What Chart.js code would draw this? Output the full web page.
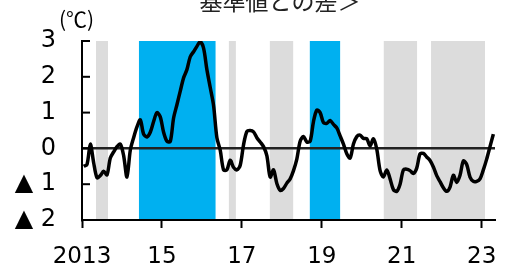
<!DOCTYPE html>
<html>
<head>
<meta charset="utf-8">
<script src="https://cdn.jsdelivr.net/npm/chart.js@4/dist/chart.umd.min.js"></script>
<style>
  html, body { margin: 0; padding: 0; background: #fff; }
  #wrap { width: 507px; height: 270px; }
</style>
</head>
<body>
<div id="wrap"><canvas id="chart"></canvas></div>
<script>
const titleText = '基準値との差＞';
const unitText = '(℃)';

// monthly values from 2013/01 (index 0) to 2023/04
const diffValues = [
  -0.5, -0.45, 0.12, -0.4, -0.82, -0.76, -0.64, -0.74, -0.27, -0.1, 0.05, 0.12,
  -0.2, -0.8, -0.05, 0.3, 0.6, 0.8, 0.4, 0.32, 0.45, 0.75, 1.0, 0.88,
  0.45, 0.2, 0.19, 0.85, 1.22, 1.6, 1.97, 2.2, 2.56, 2.7, 2.85, 2.98,
  2.8, 2.2, 1.7, 1.2, 0.3, -0.05, -0.6, -0.6, -0.33, -0.53, -0.6, -0.47,
  0.1, 0.47, 0.5, 0.46, 0.3, 0.18, 0.05, -0.2, -0.8, -0.6, -0.98, -1.17,
  -1.12, -0.97, -0.85, -0.62, -0.3, 0.2, 0.33, 0.18, 0.2, 0.75, 1.07, 1.0,
  0.72, 0.7, 0.78, 0.67, 0.57, 0.35, 0.12, -0.15, -0.27, 0.12, 0.33, 0.37,
  0.28, 0.27, 0.07, 0.27, -0.02, -0.62, -0.8, -0.6, -0.85, -1.15, -1.2, -1.0,
  -0.6, -0.58, -0.62, -0.7, -0.55, -0.15, -0.14, -0.24, -0.34, -0.52, -0.76, -0.93,
  -1.1, -1.2, -1.08, -0.75, -0.95, -0.75, -0.35, -0.45, -0.8, -0.92, -0.92, -0.85,
  -0.6, -0.3, 0.05, 0.4
];

// x tick positions (month index) and labels
const tickMonths = [0, 24, 48, 72, 96, 120];
const tickLabels = ['2013', '15', '17', '19', '21', '23'];

// shaded periods, in month index (start, end)
const laninaStart = [4.2, 44.1, 56.4, 90.6, 104.8];
const laninaEnd   = [7.8, 46.2, 63.4, 100.6, 121];
const elninoStart = [17.1, 68.4];
const elninoEnd   = [40.1, 77.5];

const points = diffValues.map((v, i) => ({ x: i + 0.5, y: v }));

const bandsPlugin = {
  id: 'bands',
  beforeDraw(chart) {
    const { ctx, chartArea, scales } = chart;
    const draw = (starts, ends, color) => {
      ctx.fillStyle = color;
      starts.forEach((s, i) => {
        const x1 = scales.x.getPixelForValue(s);
        const x2 = scales.x.getPixelForValue(ends[i]);
        ctx.fillRect(x1, chartArea.top, x2 - x1, chartArea.bottom - chartArea.top);
      });
    };
    ctx.save();
    draw(laninaStart, laninaEnd, '#dcdcdc');
    draw(elninoStart, elninoEnd, '#00b0f0');
    ctx.restore();
  },
  afterDraw(chart) {
    const { ctx, chartArea, scales } = chart;
    ctx.save();
    // inner tick marks on the y axis
    ctx.strokeStyle = '#000';
    ctx.lineWidth = 2;
    scales.y.ticks.forEach(t => {
      const y = scales.y.getPixelForValue(t.value);
      ctx.beginPath();
      ctx.moveTo(chartArea.left, y);
      ctx.lineTo(chartArea.left + 8, y);
      ctx.stroke();
    });
    ctx.fillStyle = '#000';
    ctx.textBaseline = 'middle';
    ctx.textAlign = 'left';
    ctx.font = '21px "Noto Sans CJK JP"';
    ctx.fillText(unitText, 59, 19);
    ctx.textAlign = 'center';
    ctx.font = '23px "Noto Sans CJK JP"';
    ctx.fillStyle = '#222';
    ctx.fillText(titleText, 280, 1);
    ctx.restore();
  }
};

new Chart(document.getElementById('chart'), {
  type: 'line',
  data: {
    datasets: [{
      data: points,
      borderColor: '#000',
      borderWidth: 3.5,
      pointRadius: 0,
      tension: 0.3,
      fill: false
    }]
  },
  options: {
    responsive: true,
    maintainAspectRatio: false,
    animation: false,
    layout: { padding: { top: 41, right: 12, left: 0, bottom: 0 } },
    plugins: { legend: { display: false }, tooltip: { enabled: false } },
    scales: {
      x: {
        type: 'linear',
        min: 0,
        max: 124,
        afterBuildTicks: scale => { scale.ticks = tickMonths.map(v => ({ value: v })); },
        afterFit: scale => {
          scale.height = 50;
          scale.paddingLeft = 0;
          scale.paddingRight = 0;
        },
        ticks: {
          autoSkip: false,
          maxRotation: 0,
          padding: 15,
          color: '#000',
          font: { family: 'DejaVu Sans', size: 23 },
          callback: v => tickLabels[tickMonths.indexOf(v)]
        },
        grid: {
          drawOnChartArea: false,
          drawTicks: true,
          tickLength: 8,
          tickColor: '#000',
          tickWidth: 2
        },
        border: { display: true, color: '#000', width: 2 }
      },
      y: {
        min: -2,
        max: 3,
        afterFit: scale => {
          scale.width = 82;
          scale.paddingTop = 0;
          scale.paddingBottom = 0;
        },
        ticks: {
          stepSize: 1,
          padding: 26,
          color: '#000',
          font: { family: 'DejaVu Sans', size: 24 },
          callback: v => v < 0 ? '▲ ' + (-v) : String(v)
        },
        grid: {
          drawTicks: false,
          color: ctx => ctx.tick && ctx.tick.value === 0 ? '#222' : 'rgba(0,0,0,0)',
          lineWidth: 2.5
        },
        border: { display: true, color: '#000', width: 2 }
      }
    }
  },
  plugins: [bandsPlugin]
});
</script>
</body>
</html>
